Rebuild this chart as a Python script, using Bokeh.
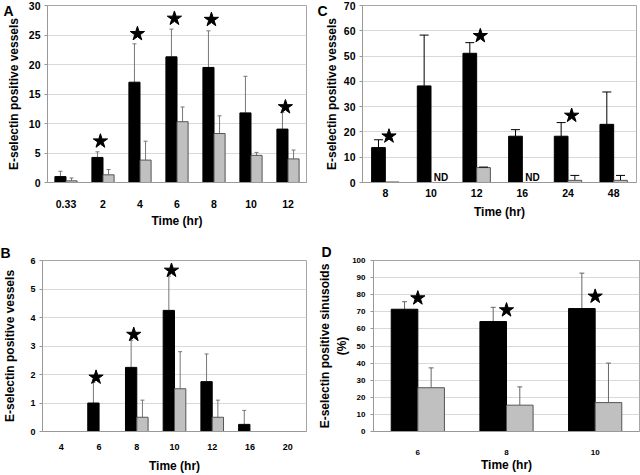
import math
from bokeh.plotting import figure
from bokeh.models import (ColumnDataSource, FactorRange, Range1d, FixedTicker, Title,
                          LinearAxis)
from bokeh.transform import dodge
from bokeh.layouts import column, row
from bokeh.embed import file_html
from bokeh.resources import INLINE
from bokeh.core.properties import value

FONT = "Liberation Sans"

# ---------------- Panel A ----------------
a_cats = ["0.33", "2", "4", "6", "8", "10", "12"]
a_black = [1.0, 4.25, 17.0, 21.3, 19.5, 11.8, 9.05]
a_black_err = [1.9, 5.2, 23.5, 26.0, 25.7, 18.0, 11.9]
a_grey = [0.28, 1.3, 3.8, 10.3, 8.3, 4.6, 4.0]
a_grey_err = [0.77, 2.2, 7.0, 12.8, 11.3, 5.1, 5.5]
a_star_cats = ["2", "4", "6", "8", "12"]
a_star_y = [7.0, 25.2, 27.8, 27.6, 12.8]

# ---------------- Panel B ----------------
b_cats = ["4", "6", "8", "10", "12", "16", "20"]
b_black = [0, 1.0, 2.25, 4.25, 1.75, 0.25, 0]
b_black_err = [None, 1.72, 3.2, 5.45, 2.72, 0.74, None]
b_grey = [0, 0, 0.5, 1.5, 0.5, 0, 0]
b_grey_err = [None, None, 1.1, 2.8, 1.1, None, None]
b_star_cats = ["6", "8", "10"]
b_star_y = [1.9, 3.4, 5.65]

# ---------------- Panel C ----------------
c_cats = ["8", "10", "12", "16", "24", "48"]
c_black = [13.8, 38.2, 51.1, 18.3, 18.3, 23.0]
c_black_err = [16.9, 58.3, 55.3, 20.9, 23.7, 35.8]
c_grey = [0.2, None, 5.9, None, 0.85, 0.85]
c_grey_err = [None, None, 6.1, None, 2.8, 2.8]
c_star_cats = ["8", "12", "24"]
c_star_y = [18.3, 58.0, 26.5]
c_nd_cats = ["10", "16"]
c_nd_text = ["ND", "ND"]

# ---------------- Panel D ----------------
d_cats = ["6", "8", "10"]
d_black = [71.5, 64.3, 71.9]
d_black_err = [75.9, 72.6, 92.6]
d_grey = [25.6, 15.4, 16.9]
d_grey_err = [37.2, 26.1, 40.0]
d_star_cats = ["6", "8", "10"]
d_star_y = [78.0, 71.0, 79.0]

Y_LABEL = "E-selectin positive vessels"
Y_LABEL_D = "E-selectin positive sinusoids\n(%)"
X_LABEL = "Time (hr)"


def nan(v):
    return float("nan") if v is None else float(v)


def make_panel(letter, cats, black, black_err, grey, grey_err, star_cats, star_y,
               ymax, ystep, ylabel, width, height, borders, tick_font, err_color,
               cap_size, star_dx, x_std, x_lab_std, y_std, y_lab_std,
               letter_mode, letter_pos, nd_cats=None, nd_text=None):
    bl, br, bt, bb = borders
    p = figure(width=width, height=height, output_backend="svg", toolbar_location=None,
               x_range=FactorRange(*cats, range_padding=0), y_range=Range1d(0, ymax),
               min_border_left=bl, min_border_right=br,
               min_border_top=bt, min_border_bottom=bb)
    p.background_fill_color = "white"
    p.border_fill_color = "white"
    p.outline_line_color = "#a6a6a6"
    p.xgrid.grid_line_color = None
    p.ygrid.grid_line_color = "#d9d9d9"
    p.ygrid.ticker = FixedTicker(ticks=list(range(0, ymax + 1, ystep)))

    w = 0.3
    src = ColumnDataSource(dict(
        cat=cats,
        black=[nan(v) for v in black],
        black_err=[nan(v) for v in black_err],
        grey=[nan(v) for v in grey],
        grey_err=[nan(v) for v in grey_err],
    ))
    xb = dodge("cat", -w / 2, range=p.x_range)
    xg = dodge("cat", w / 2, range=p.x_range)

    p.segment(x0=xb, y0="black", x1=xb, y1="black_err", source=src,
              line_color=err_color, line_width=1)
    p.segment(x0=xg, y0="grey", x1=xg, y1="grey_err", source=src,
              line_color=err_color, line_width=1)
    p.vbar(x=xb, top="black", width=w, source=src, fill_color="black",
           line_color="black", line_width=1)
    p.vbar(x=xg, top="grey", width=w, source=src, fill_color="#c0c0c0",
           line_color="#555555", line_width=1)
    p.scatter(x=xb, y="black_err", source=src, marker="dash", size=cap_size,
              line_color=err_color, line_width=1)
    p.scatter(x=xg, y="grey_err", source=src, marker="dash", size=cap_size,
              line_color=err_color, line_width=1)

    s_src = ColumnDataSource(dict(cat=star_cats, y=star_y))
    p.scatter(x=dodge("cat", star_dx, range=p.x_range), y="y", source=s_src,
              marker="star", size=15, fill_color="black", line_color="black")

    if nd_cats:
        nd_src = ColumnDataSource(dict(cat=nd_cats, t=nd_text))
        p.text(x=dodge("cat", 0.22, range=p.x_range), y=0, text="t", source=nd_src,
               text_font=value(FONT), text_font_style="bold", text_font_size="10px",
               text_align="center", text_baseline="bottom", text_color="black")

    p.yaxis.ticker = FixedTicker(ticks=list(range(0, ymax + 1, ystep)))
    p.yaxis.axis_label = ylabel
    p.xaxis.axis_label = X_LABEL
    for ax in (p.xaxis[0], p.yaxis[0]):
        ax.axis_line_color = "#999999"
        ax.major_label_text_font = FONT
        ax.major_label_text_font_style = "bold"
        ax.major_label_text_font_size = tick_font
        ax.major_label_text_color = "black"
        ax.axis_label_text_font = FONT
        ax.axis_label_text_font_style = "bold"
        ax.axis_label_text_font_size = "12px"
        ax.axis_label_text_color = "black"
        ax.minor_tick_line_color = None
    p.xaxis.major_tick_line_color = None
    p.xaxis.major_label_standoff = x_std
    p.xaxis.axis_label_standoff = x_lab_std
    p.yaxis.major_tick_line_color = "#999999"
    p.yaxis.major_tick_out = 3
    p.yaxis.major_tick_in = 0
    p.yaxis.major_label_standoff = y_std
    p.yaxis.axis_label_standoff = y_lab_std

    if letter_mode == "title":
        offset, standoff = letter_pos
        p.add_layout(Title(text=letter, align="left", offset=-bl + offset,
                           standoff=standoff, text_font=FONT, text_font_style="bold",
                           text_font_size="14px", text_color="black"), "above")
    else:
        # panel letter as the single label of an unlined outer axis at the top-left
        tick, standoff = letter_pos
        p.extra_y_ranges = {"letter": Range1d(0, 100)}
        lax = LinearAxis(y_range_name="letter", ticker=FixedTicker(ticks=[tick]),
                         major_label_overrides={tick: letter})
        lax.axis_line_color = None
        lax.major_tick_line_color = None
        lax.minor_tick_line_color = None
        lax.major_tick_out = 0
        lax.major_tick_in = 0
        lax.major_label_standoff = standoff
        lax.major_label_text_font = FONT
        lax.major_label_text_font_style = "bold"
        lax.major_label_text_font_size = "14px"
        lax.major_label_text_color = "black"
        p.add_layout(lax, "left")
    return p


H1, H2 = 232, 243
W1, W2 = 313, 327

pA = make_panel("A", a_cats, a_black, a_black_err, a_grey, a_grey_err, a_star_cats, a_star_y,
                30, 5, Y_LABEL, W1, H1, (39, 7, 5, 50), "10.5px", "#777777", 4, -0.07,
                11, 3, 4, 5, "axis", (97, -10))
pC = make_panel("C", c_cats, c_black, c_black_err, c_grey, c_grey_err, c_star_cats, c_star_y,
                70, 10, Y_LABEL, W2, H1, (49, 4, 5, 50), "10.5px", "#000000", 9, 0.08,
                0, 5, 4, 2, "axis", (97, -6), c_nd_cats, c_nd_text)
pB = make_panel("B", b_cats, b_black, b_black_err, b_grey, b_grey_err, b_star_cats, b_star_y,
                6, 1, Y_LABEL, W1, H2, (38, 7, 28, 44), "9px", "#777777", 4, -0.08,
                6, 6, 4, 10, "title", (-4, 0))
pD = make_panel("D", d_cats, d_black, d_black_err, d_grey, d_grey_err, d_star_cats, d_star_y,
                100, 10, Y_LABEL_D, W2, H2, (60, 1, 28, 44), "8px", "#666666", 5, 0.0,
                12, 0, 5, 0, "title", (8, 1))

layout = column(row(pA, pC), row(pB, pD))
open("out.html", "w").write(file_html(layout, INLINE))
